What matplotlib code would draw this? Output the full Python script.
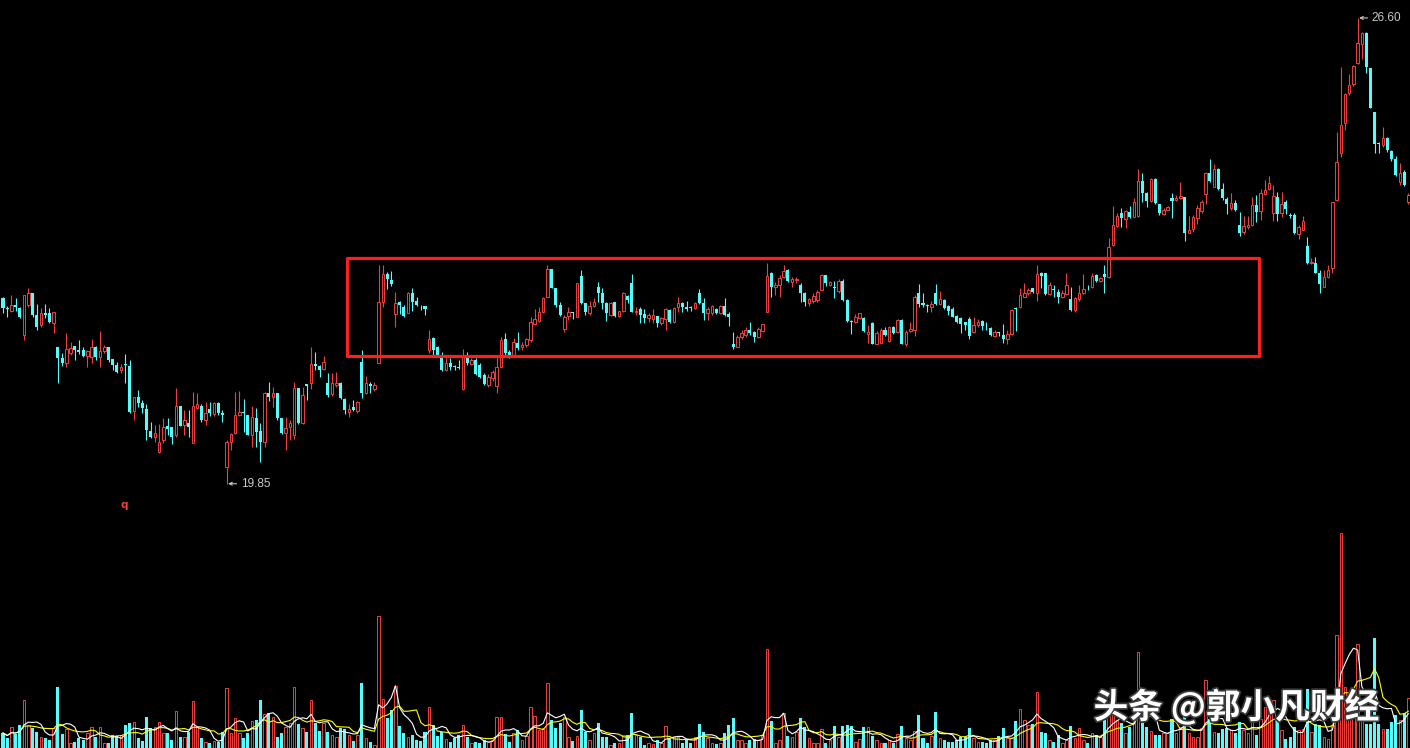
import numpy as np
import pandas as pd
import matplotlib
matplotlib.use("Agg")
import matplotlib.pyplot as plt
from matplotlib.patches import Rectangle
import matplotlib.patheffects as pe

# daily candles (open / close / high / low)
opens = [
    22.54, 22.40, 22.36, 22.44, 22.40, 22.01, 22.44, 22.61, 22.30, 22.15,
    22.33, 22.33, 22.18, 21.83, 21.67, 21.60, 21.75, 21.85, 21.79, 21.79,
    21.70, 21.69, 21.83, 21.69, 21.77, 21.83, 21.66, 21.57, 21.50, 21.58,
    21.56, 20.90, 21.11, 21.02, 20.93, 20.61, 20.53, 20.31, 20.48, 20.69,
    20.67, 20.56, 20.98, 20.70, 20.73, 20.44, 20.95, 20.98, 20.77, 20.93,
    20.86, 21.02, 20.87, 20.09, 20.46, 20.59, 20.85, 20.89, 20.85, 20.56,
    20.80, 20.61, 20.45, 21.17, 21.11, 21.17, 20.80, 20.59, 20.67, 20.56,
    21.24, 20.73, 21.29, 21.31, 21.59, 21.56, 21.51, 21.31, 21.15, 21.28,
    21.31, 21.08, 20.89, 20.96, 20.90, 21.61, 21.17, 21.29, 21.22, 21.60,
    22.48, 22.89, 22.80, 22.31, 22.48, 22.41, 22.32, 22.61, 22.50, 22.43,
    22.43, 21.79, 21.96, 21.83, 21.69, 21.50, 21.60, 21.56, 21.54, 21.22,
    21.69, 21.58, 21.64, 21.57, 21.43, 21.28, 21.38, 21.27, 21.54, 21.95,
    21.76, 21.72, 21.89, 21.83, 21.86, 21.93, 22.17, 22.21, 22.34, 22.56,
    22.96, 22.69, 22.44, 22.09, 22.28, 22.34, 22.27, 22.86, 22.47, 22.33,
    22.43, 22.70, 22.61, 22.47, 22.30, 22.48, 22.28, 22.35, 22.57, 22.76,
    22.34, 22.38, 22.31, 22.25, 22.24, 22.28, 22.18, 22.24, 22.37, 22.19,
    22.41, 22.47, 22.41, 22.41, 22.40, 22.61, 22.47, 22.32, 22.32, 22.38,
    22.33, 22.43, 22.31, 21.88, 21.83, 21.98, 22.01, 22.08, 22.05, 21.98,
    22.06, 22.34, 22.90, 22.70, 22.73, 22.85, 22.95, 22.78, 22.80, 22.73,
    22.61, 22.47, 22.50, 22.51, 22.66, 22.88, 22.73, 22.70, 22.64, 22.79,
    22.51, 22.21, 22.19, 22.25, 22.25, 22.02, 22.18, 21.88, 21.89, 22.08,
    21.92, 22.12, 22.05, 22.22, 21.88, 22.06, 22.08, 22.61, 22.47, 22.44,
    22.41, 22.61, 22.46, 22.51, 22.43, 22.38, 22.28, 22.25, 22.19, 22.24,
    22.05, 22.15, 22.21, 22.11, 22.11, 21.99, 22.04, 22.01, 21.95, 22.02,
    22.39, 22.41, 22.56, 22.61, 22.69, 22.61, 22.90, 22.90, 22.60, 22.67,
    22.63, 22.56, 22.60, 22.53, 22.37, 22.53, 22.61, 22.69, 22.70, 22.88,
    22.79, 22.89, 22.85, 23.31, 23.59, 23.77, 23.69, 23.79, 23.72, 23.73,
    24.24, 24.06, 23.95, 24.27, 23.90, 23.76, 23.82, 23.99, 23.96, 23.99,
    24.01, 23.48, 23.54, 23.70, 23.80, 24.05, 24.35, 24.15, 24.41, 24.12,
    23.98, 23.85, 23.92, 23.60, 23.50, 23.57, 23.60, 23.89, 23.80, 24.05,
    24.12, 23.77, 24.01, 23.77, 23.93, 23.74, 23.75, 23.47, 23.53, 23.30,
    23.05, 23.05, 22.90, 22.70, 22.85, 22.98, 23.96, 24.64, 25.08, 25.51,
    25.64, 25.95, 26.22, 26.38, 25.88, 25.24, 24.78, 24.76, 24.86, 24.67,
    24.56, 24.22, 24.37, 23.93,
]
closes = [
    22.40, 22.38, 22.44, 22.41, 22.27, 22.59, 22.61, 22.30, 22.12, 22.33,
    22.30, 22.19, 22.34, 21.67, 21.60, 21.80, 21.81, 21.79, 21.76, 21.70,
    21.77, 21.83, 21.69, 21.77, 21.83, 21.64, 21.57, 21.47, 21.54, 21.57,
    20.89, 21.11, 21.02, 20.95, 20.63, 20.53, 20.59, 20.45, 20.67, 20.64,
    20.53, 20.98, 20.69, 20.77, 20.67, 20.98, 21.00, 20.77, 20.87, 20.87,
    21.02, 20.87, 20.84, 20.46, 20.57, 20.85, 20.89, 20.87, 20.56, 20.82,
    20.60, 20.45, 21.17, 21.11, 21.17, 20.80, 20.59, 20.66, 20.73, 21.24,
    20.73, 21.14, 21.26, 21.59, 21.56, 21.50, 21.61, 21.14, 21.31, 21.31,
    21.09, 20.92, 20.93, 20.92, 21.03, 21.17, 21.31, 21.26, 21.28, 22.48,
    22.89, 22.82, 22.74, 22.47, 22.44, 22.28, 22.61, 22.48, 22.44, 22.42,
    22.38, 21.95, 21.79, 21.72, 21.50, 21.60, 21.54, 21.54, 21.52, 21.70,
    21.60, 21.64, 21.44, 21.40, 21.30, 21.40, 21.47, 21.54, 21.93, 21.74,
    21.72, 21.90, 21.82, 21.86, 21.95, 22.19, 22.24, 22.34, 22.54, 22.96,
    22.69, 22.44, 22.30, 22.27, 22.34, 22.32, 22.76, 22.47, 22.34, 22.43,
    22.49, 22.61, 22.47, 22.32, 22.47, 22.28, 22.35, 22.61, 22.51, 22.34,
    22.36, 22.30, 22.25, 22.30, 22.30, 22.18, 22.25, 22.38, 22.19, 22.40,
    22.47, 22.41, 22.38, 22.40, 22.47, 22.47, 22.32, 22.38, 22.43, 22.32,
    22.43, 22.30, 22.27, 21.83, 21.98, 22.03, 22.08, 22.04, 21.98, 22.09,
    22.16, 22.86, 22.70, 22.73, 22.83, 22.93, 22.79, 22.82, 22.82, 22.61,
    22.48, 22.53, 22.57, 22.63, 22.88, 22.76, 22.77, 22.68, 22.79, 22.51,
    22.21, 22.20, 22.27, 22.32, 22.06, 22.05, 21.88, 22.03, 22.08, 22.00,
    22.12, 22.04, 22.22, 21.88, 22.05, 22.09, 22.56, 22.46, 22.44, 22.43,
    22.46, 22.46, 22.53, 22.40, 22.36, 22.27, 22.19, 22.17, 22.15, 21.99,
    22.15, 22.19, 22.14, 22.10, 22.01, 22.05, 22.03, 21.95, 22.02, 22.37,
    22.38, 22.59, 22.61, 22.66, 22.63, 22.89, 22.86, 22.60, 22.73, 22.66,
    22.56, 22.61, 22.73, 22.37, 22.54, 22.61, 22.67, 22.68, 22.86, 22.79,
    22.83, 22.85, 23.28, 23.60, 23.73, 23.70, 23.80, 23.72, 23.93, 24.24,
    24.06, 23.95, 24.27, 23.92, 23.77, 23.82, 23.86, 23.95, 23.99, 24.02,
    23.48, 23.53, 23.72, 23.85, 23.93, 24.35, 24.24, 24.41, 24.12, 23.99,
    23.90, 23.92, 23.82, 23.48, 23.59, 23.60, 23.89, 23.79, 24.06, 24.11,
    24.21, 24.02, 23.76, 23.90, 23.83, 23.73, 23.48, 23.57, 23.66, 23.05,
    23.06, 22.90, 22.74, 22.85, 22.95, 23.93, 24.51, 25.05, 25.50, 25.63,
    25.90, 26.24, 26.38, 25.89, 25.30, 24.77, 24.77, 24.86, 24.69, 24.56,
    24.32, 24.35, 24.18, 24.03,
]
highs = [
    22.55, 22.42, 22.59, 22.54, 22.41, 22.59, 22.69, 22.61, 22.46, 22.40,
    22.46, 22.40, 22.34, 21.83, 21.74, 22.03, 21.90, 21.85, 21.93, 21.83,
    21.79, 21.95, 21.85, 22.06, 21.86, 21.83, 21.66, 21.61, 21.59, 21.73,
    21.64, 21.11, 21.21, 21.06, 21.01, 20.74, 20.70, 20.72, 20.80, 20.80,
    20.67, 21.24, 20.98, 20.92, 20.92, 21.18, 21.16, 21.00, 21.03, 21.03,
    21.03, 21.03, 20.92, 20.48, 20.59, 21.18, 21.19, 21.08, 20.85, 20.98,
    20.95, 20.73, 21.18, 21.32, 21.25, 21.17, 20.80, 20.82, 20.77, 21.32,
    21.24, 21.25, 21.30, 21.83, 21.76, 21.57, 21.70, 21.46, 21.46, 21.47,
    21.33, 21.09, 21.00, 21.06, 21.05, 21.79, 21.41, 21.33, 21.33, 23.02,
    23.02, 22.92, 22.93, 22.63, 22.50, 22.44, 22.63, 22.69, 22.56, 22.44,
    22.43, 22.08, 21.98, 21.85, 21.76, 21.67, 21.67, 21.57, 21.64, 21.80,
    21.76, 21.67, 21.67, 21.60, 21.46, 21.44, 21.50, 21.69, 21.98, 22.03,
    21.79, 21.96, 22.05, 21.90, 21.96, 22.26, 22.38, 22.41, 22.56, 23.02,
    22.96, 22.69, 22.48, 22.30, 22.41, 22.34, 22.76, 22.95, 22.47, 22.50,
    22.54, 22.77, 22.69, 22.48, 22.48, 22.48, 22.36, 22.63, 22.59, 22.89,
    22.41, 22.41, 22.38, 22.33, 22.38, 22.28, 22.27, 22.40, 22.38, 22.41,
    22.56, 22.48, 22.50, 22.43, 22.48, 22.67, 22.54, 22.41, 22.44, 22.40,
    22.44, 22.54, 22.34, 22.05, 22.01, 22.08, 22.12, 22.19, 22.07, 22.12,
    22.17, 23.05, 22.92, 22.77, 22.88, 23.02, 22.96, 22.85, 22.85, 22.76,
    22.63, 22.54, 22.61, 22.66, 22.89, 22.88, 22.79, 22.79, 22.82, 22.82,
    22.52, 22.22, 22.31, 22.33, 22.27, 22.15, 22.19, 22.06, 22.10, 22.12,
    22.14, 22.14, 22.24, 22.23, 22.08, 22.19, 22.59, 22.74, 22.61, 22.46,
    22.50, 22.74, 22.64, 22.52, 22.44, 22.41, 22.30, 22.27, 22.20, 22.26,
    22.27, 22.24, 22.22, 22.19, 22.12, 22.08, 22.05, 22.16, 22.08, 22.38,
    22.41, 22.69, 22.76, 22.69, 22.69, 23.02, 22.92, 22.91, 22.77, 22.73,
    22.67, 22.66, 22.90, 22.70, 22.56, 22.73, 22.89, 22.73, 22.90, 22.89,
    22.85, 23.02, 23.41, 23.88, 23.77, 23.85, 23.82, 23.88, 23.99, 24.41,
    24.35, 24.08, 24.28, 24.28, 23.91, 23.85, 23.88, 24.06, 24.03, 24.22,
    24.01, 23.73, 23.75, 23.89, 23.96, 24.37, 24.56, 24.48, 24.43, 24.21,
    24.01, 24.06, 23.96, 23.79, 23.73, 23.73, 24.01, 24.03, 24.12, 24.25,
    24.31, 24.18, 24.08, 24.08, 23.96, 23.77, 23.77, 23.60, 23.73, 23.42,
    23.12, 23.14, 22.95, 22.95, 23.02, 23.93, 24.95, 25.89, 25.51, 25.79,
    25.92, 26.60, 26.40, 26.40, 25.88, 25.24, 24.80, 25.02, 24.88, 24.69,
    24.60, 24.50, 24.40, 24.06,
]
lows = [
    22.33, 22.27, 22.34, 22.36, 22.25, 21.93, 22.41, 22.27, 22.08, 22.12,
    22.25, 22.18, 22.03, 21.31, 21.56, 21.54, 21.72, 21.64, 21.73, 21.69,
    21.54, 21.60, 21.64, 21.54, 21.74, 21.62, 21.50, 21.46, 21.46, 21.31,
    20.88, 20.77, 20.96, 20.88, 20.48, 20.51, 20.46, 20.30, 20.44, 20.56,
    20.43, 20.53, 20.68, 20.56, 20.53, 20.44, 20.93, 20.75, 20.70, 20.83,
    20.83, 20.85, 20.74, 19.85, 20.34, 20.57, 20.83, 20.60, 20.55, 20.38,
    20.38, 20.17, 20.38, 21.05, 20.96, 20.78, 20.57, 20.34, 20.48, 20.50,
    20.72, 20.72, 21.06, 21.22, 21.50, 21.40, 21.50, 21.11, 21.12, 21.25,
    21.08, 20.86, 20.82, 20.91, 20.87, 21.09, 21.15, 21.17, 21.20, 21.60,
    22.41, 22.67, 22.72, 22.12, 22.31, 22.27, 22.32, 22.35, 22.43, 22.37,
    22.30, 21.74, 21.72, 21.71, 21.48, 21.48, 21.50, 21.50, 21.51, 21.21,
    21.57, 21.57, 21.43, 21.38, 21.28, 21.25, 21.34, 21.17, 21.53, 21.72,
    21.67, 21.70, 21.79, 21.79, 21.83, 21.90, 22.15, 22.19, 22.32, 22.56,
    22.68, 22.41, 22.28, 22.05, 22.22, 22.24, 22.27, 22.46, 22.30, 22.30,
    22.41, 22.48, 22.38, 22.21, 22.28, 22.27, 22.27, 22.34, 22.47, 22.34,
    22.30, 22.18, 22.18, 22.20, 22.18, 22.12, 22.15, 22.08, 22.18, 22.18,
    22.34, 22.34, 22.35, 22.35, 22.38, 22.46, 22.22, 22.22, 22.30, 22.31,
    22.31, 22.28, 22.14, 21.80, 21.83, 21.95, 21.98, 22.01, 21.90, 21.96,
    22.05, 22.34, 22.56, 22.59, 22.56, 22.83, 22.78, 22.70, 22.76, 22.48,
    22.43, 22.43, 22.47, 22.49, 22.66, 22.72, 22.72, 22.54, 22.62, 22.50,
    22.20, 22.02, 22.18, 22.23, 22.05, 21.89, 21.87, 21.87, 21.87, 21.99,
    21.90, 22.02, 22.04, 21.87, 21.85, 22.05, 21.99, 22.41, 22.41, 22.34,
    22.34, 22.44, 22.44, 22.38, 22.30, 22.26, 22.18, 22.03, 22.08, 21.95,
    22.04, 22.12, 22.08, 22.08, 21.99, 21.98, 21.99, 21.89, 21.88, 22.01,
    22.06, 22.40, 22.56, 22.59, 22.62, 22.50, 22.69, 22.59, 22.59, 22.56,
    22.47, 22.54, 22.59, 22.35, 22.34, 22.50, 22.60, 22.66, 22.69, 22.78,
    22.78, 22.61, 22.83, 23.30, 23.57, 23.57, 23.56, 23.70, 23.71, 23.72,
    23.93, 23.86, 23.93, 23.91, 23.74, 23.75, 23.81, 23.70, 23.95, 23.98,
    23.37, 23.48, 23.50, 23.62, 23.78, 23.90, 24.22, 24.15, 24.11, 23.96,
    23.76, 23.82, 23.80, 23.44, 23.47, 23.54, 23.59, 23.64, 23.67, 24.04,
    24.11, 23.66, 23.66, 23.72, 23.76, 23.70, 23.47, 23.40, 23.52, 23.04,
    23.04, 22.90, 22.61, 22.70, 22.83, 22.90, 23.95, 24.59, 24.98, 25.48,
    25.61, 25.93, 26.01, 25.80, 25.29, 24.64, 24.64, 24.73, 24.66, 24.53,
    24.31, 24.18, 24.16, 23.90,
]
volumes = [
    15, 10, 21, 14, 23, 48, 23, 20, 16, 11, 10, 8, 20, 61, 14, 19, 5, 6, 10, 8,
    15, 21, 11, 21, 5, 5, 13, 12, 13, 23, 25, 26, 10, 7, 31, 20, 21, 26, 15, 15,
    8, 37, 11, 11, 16, 47, 21,
    10, 6, 5, 7, 6, 16, 60, 15, 30, 15, 10, 15, 27, 28, 48, 34, 35, 31, 11, 15,
    21, 25, 61, 24, 20, 16, 48, 25, 17, 25, 16, 13, 11, 20, 19, 13, 7, 13, 65, 10,
    6, 3, 132, 49, 30, 38, 62, 22,
    15, 11, 13, 8, 7, 16, 41, 23, 12, 16, 9, 6, 10, 13, 23, 11, 5, 6, 5, 8,
    6, 8, 31, 31, 14, 6, 15, 18, 8, 12, 41, 32, 18, 20, 65, 28, 20, 25, 31, 11,
    7, 12, 38, 16, 8, 15, 25, 11, 11, 3, 5, 5, 13, 13, 35, 13, 11, 3, 5, 4,
    8, 5, 22, 9, 11, 11, 5, 8, 5, 11, 24, 16, 10, 5, 4, 5, 15, 23, 30, 8,
    8, 5, 8, 9, 8, 13, 99, 27, 5, 8, 35, 12, 11, 16, 30, 21, 10, 5, 5, 19,
    5, 8, 22, 11, 22, 23, 22, 6, 9, 21, 21, 12, 8, 5, 5, 8, 5, 14,
    22, 10, 8, 17, 33, 10, 5, 12, 36, 10, 8, 6, 6, 8, 11, 11, 20, 10, 6, 6,
    5, 8, 8, 12, 20, 10, 10, 27, 39, 28, 23, 24, 56, 16, 15, 8, 6, 13, 5, 8,
    22, 10, 20, 8, 5, 15, 13, 11, 28, 33, 36, 28, 25, 15, 21, 31, 96, 25, 21, 17,
    13, 13, 15, 15, 29, 15, 21, 31, 15, 11, 11, 20, 68, 29, 16, 15, 19, 20, 18, 15,
    26, 18, 15, 29, 13, 29, 41, 50, 48, 30, 18, 9, 11, 21, 18, 19, 59, 16, 24, 23,
    11, 9, 23, 113, 215, 61, 55, 55, 104, 31, 24, 24, 110, 24, 19, 19, 26, 33, 28, 35,
    50,
]

RED = '#f04040'
CYAN = '#54fcfc'

o = np.array(opens)
c = np.array(closes)
h = np.array(highs)
l = np.array(lows)
v = np.array(volumes, dtype=float)
x = np.arange(len(c))
up = c >= o
dn = ~up
top = np.maximum(o, c)
bot = np.minimum(o, c)
body = np.maximum(top - bot, 0.012)

fig = plt.figure(figsize=(14.1, 7.48), dpi=100, facecolor='black')
axv = fig.add_axes([0, 0, 1, 230 / 748])
ax = fig.add_axes([0, 0, 1, 1])
for a in (axv, ax):
    a.set_facecolor('none')
    a.axis('off')
    a.set_xlim(-0.71, 333.4)
ax.set_ylim(16.02, 26.86)
axv.set_ylim(0, 230)

# candles: cyan filled, red hollow
ax.vlines(x[dn], l[dn], h[dn], color=CYAN, lw=0.8)
ax.bar(x[dn], body[dn], bottom=bot[dn], width=0.72, color=CYAN, lw=0)
ax.vlines(x[up], top[up], h[up], color=RED, lw=0.8)
ax.vlines(x[up], l[up], bot[up], color=RED, lw=0.8)
ax.bar(x[up], body[up], bottom=bot[up], width=0.6,
       facecolor='black', edgecolor=RED, lw=0.7)

# volume + moving averages
axv.bar(x[dn], v[dn], width=0.72, color=CYAN, lw=0)
axv.bar(x[up], v[up], width=0.6, facecolor='black', edgecolor=RED, lw=0.7)
ma5 = pd.Series(v).rolling(5, min_periods=1).mean()
ma10 = pd.Series(v).rolling(10, min_periods=1).mean()
axv.plot(x, ma10, color='#ffff00', lw=0.8)
axv.plot(x, ma5, color='white', lw=0.8)

# high / low markers
lab = dict(color='#c8c8c8', fontsize=8.5, family='Liberation Sans',
           ha='left', va='center', textcoords='offset pixels',
           arrowprops=dict(arrowstyle='->,head_length=0.25,head_width=0.12',
                           color='#c8c8c8', lw=0.8, shrinkA=1, shrinkB=1))
hi = int(np.argmax(h))
lo = int(np.argmin(l))
ax.annotate(f'{h[hi]:.2f}', xy=(hi, h[hi]), xytext=(14, 0), **lab)
ax.annotate(f'{l[lo]:.2f}', xy=(lo, l[lo]), xytext=(14, 0), **lab)

ax.text(28.7, 19.54, 'q', color=RED, fontsize=7.5, fontweight='bold',
        ha='center', va='center')

# consolidation box
ax.add_patch(Rectangle((81.5, 21.70), 216.1, 1.42, fill=False,
                       edgecolor='#ff1e1e', lw=2.3, joinstyle='round', zorder=5))

fig.text(0.877, 0.055, '头条 @郭小凡财经', color='white', fontsize=25,
         fontweight='bold', family=['Noto Sans CJK SC', 'DejaVu Sans'],
         ha='center', va='center', zorder=10,
         path_effects=[pe.withStroke(linewidth=2.5, foreground='#3a3a3a')])

fig.savefig('out.png', dpi=100, facecolor='black')
